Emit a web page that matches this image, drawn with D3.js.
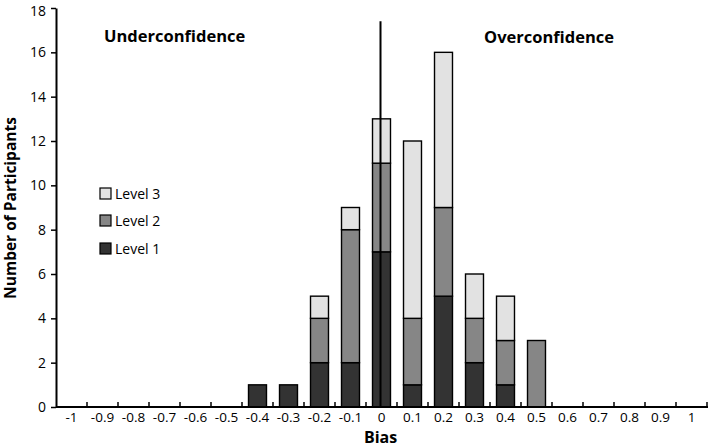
<!DOCTYPE html>
<html><head><meta charset="utf-8">
<script src="https://cdn.jsdelivr.net/npm/d3@7/dist/d3.min.js"></script>
<style>body{margin:0;background:#fff}svg{display:block}text{font-family:"Open Sans",sans-serif}</style>
</head><body>
<svg id="c" width="708" height="447"></svg>
<script>
const categories = ["-1","-0.9","-0.8","-0.7","-0.6","-0.5","-0.4","-0.3","-0.2","-0.1","0","0.1","0.2","0.3","0.4","0.5","0.6","0.7","0.8","0.9","1"];
const level1 = [0,0,0,0,0,0,1,1,2,2,7,1,5,2,1,0,0,0,0,0,0];
const level2 = [0,0,0,0,0,0,0,0,2,6,4,3,4,2,2,3,0,0,0,0,0];
const level3 = [0,0,0,0,0,0,0,0,1,1,2,8,7,2,2,0,0,0,0,0,0];
const yTicks = [0,2,4,6,8,10,12,14,16,18];
const seriesNames = ["Level 1","Level 2","Level 3"];
const colors = ["#333333","#868686","#e2e2e2"];

const svg = d3.select("#c");
const m = {l:56, r:1, t:8, b:40};
const W = 708, H = 447;
const x = d3.scaleBand().domain(categories).range([m.l, W - m.r]).paddingInner(0.42).paddingOuter(0.21);
const xb = d3.scaleBand().domain(categories).range([m.l, W - m.r]);
const y = d3.scaleLinear().domain([0,18]).range([H - m.b, m.t]);

const table = categories.map((c,i)=>({cat:c, "Level 1":level1[i], "Level 2":level2[i], "Level 3":level3[i]}));
const stack = d3.stack().keys(seriesNames)(table);

stack.forEach((s,si)=>{
  svg.append("g").selectAll("rect").data(s.filter(d=>d[1]-d[0]>0)).join("rect")
    .attr("x", d=>x(d.data.cat)).attr("width", x.bandwidth())
    .attr("y", d=>y(d[1])).attr("height", d=>y(d[0])-y(d[1]))
    .attr("fill", colors[si]).attr("stroke","#000").attr("stroke-width",1.4);
});

// zero line
const zx = x("0") + x.bandwidth()/2 - 1;
svg.append("line").attr("x1",zx).attr("x2",zx).attr("y1",y(17.4)).attr("y2",y(0)).attr("stroke","#000").attr("stroke-width",2);

// y axis
const ya = svg.append("g").attr("transform",`translate(${m.l},0)`)
  .call(d3.axisLeft(y).tickValues(yTicks).tickSize(5).tickSizeOuter(0));
ya.select(".domain").attr("stroke-width",2);
ya.selectAll(".tick line").attr("stroke-width",1.5);
ya.selectAll("text").attr("font-size",14).attr("fill","#000").attr("x",-10)
  .attr("dy", d => d === 18 ? "0.5em" : "0.32em");

// x axis
const xa = svg.append("g").attr("transform",`translate(0,${y(0)})`);
xa.append("line").attr("x1",m.l).attr("x2",W).attr("stroke","#000").attr("stroke-width",2);
xa.selectAll(".bt").data(categories).join("line")
  .attr("x1",d=>xb(d)+xb.bandwidth()).attr("x2",d=>xb(d)+xb.bandwidth())
  .attr("y1",0).attr("y2",-5).attr("stroke","#000").attr("stroke-width",1.5);
xa.selectAll(".lbl").data(categories).join("text")
  .attr("x",d=>xb(d)+xb.bandwidth()/2).attr("y",15)
  .attr("text-anchor","middle").attr("font-size",13.5).text(d=>d);

svg.append("text").attr("x",zx).attr("y",443).attr("text-anchor","middle").attr("font-size",16).attr("font-weight","bold").text("Bias");
svg.append("text").attr("transform","translate(16,208) rotate(-90)").attr("text-anchor","middle").attr("font-size",15.5).attr("font-weight","bold").text("Number of Participants");

svg.append("text").attr("x",104).attr("y",42).attr("font-size",16.5).attr("font-weight","bold").text("Underconfidence");
svg.append("text").attr("x",484).attr("y",43).attr("font-size",16.5).attr("font-weight","bold").text("Overconfidence");

// legend
const leg = [{n:"Level 3",c:colors[2],y:194},{n:"Level 2",c:colors[1],y:221},{n:"Level 1",c:colors[0],y:249}];
leg.forEach(l=>{
  svg.append("rect").attr("x",100).attr("y",l.y-6).attr("width",11).attr("height",11).attr("fill",l.c).attr("stroke","#000").attr("stroke-width",1.2);
  svg.append("text").attr("x",115).attr("y",l.y+5).attr("font-size",14).text(l.n);
});
</script>
</body></html>
